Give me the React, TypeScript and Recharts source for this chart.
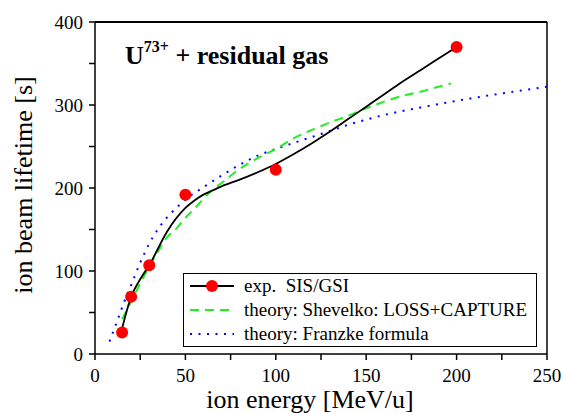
import {
  ComposedChart,
  Legend,
  Line,
  ReferenceLine,
  Scatter,
  XAxis,
  YAxis,
  Label,
} from "recharts";

// measured lifetimes (SIS/GSI)
const expEnergy = [15, 20, 30, 50, 100, 200];
const expLifetime = [26, 69, 107, 192, 222, 370];

// hand-drawn fit through the measurements
const fitEnergy = [15, 20, 25, 30, 40, 50, 55, 60, 65, 70, 80, 90, 100, 110, 120, 130, 140, 150, 160, 170, 180, 190, 200];
const fitLifetime = [31, 69, 90, 107, 148, 176, 185, 192, 197, 202, 210, 219, 229, 241, 254, 268, 283, 298, 313, 328, 342, 356, 370];

// Shevelko: LOSS+CAPTURE
const shevEnergy = [15, 20, 25, 30, 35, 40, 45, 50, 55, 60, 65, 70, 80, 90, 100, 110, 120, 130, 140, 150, 160, 170, 180, 190, 197];
const shevLifetime = [42, 63, 85, 105, 124, 141, 151, 164, 175, 187, 198, 206, 223, 236, 247, 260, 270, 279, 287, 296, 304, 311, 316, 322, 326];

// Franzke formula
const franzEnergy = [8, 12, 16, 20, 25, 30, 35, 40, 45, 50, 60, 70, 80, 90, 100, 115, 125, 140, 160, 180, 200, 225, 250];
const franzLifetime = [15, 38, 62, 83, 110, 133, 151, 165, 176, 186, 201, 215, 228, 239, 247, 258, 265, 276, 288, 297, 305, 314, 322];

const xTicks = [0, 25, 50, 75, 100, 125, 150, 175, 200, 225, 250];
const yTicks = [0, 50, 100, 150, 200, 250, 300, 350, 400];

const zip = (xs: number[], ys: number[]) => xs.map((e, i) => ({ e, t: ys[i] }));
const expData = zip(expEnergy, expLifetime);
const fitData = zip(fitEnergy, fitLifetime);
const shevData = zip(shevEnergy, shevLifetime);
const franzData = zip(franzEnergy, franzLifetime);

const FONT = "'Liberation Serif', 'Times New Roman', serif";

function LegendBox() {
  const row = { display: "flex", alignItems: "center", height: 24 } as const;
  const text = { marginLeft: 10, fontSize: 19, fontFamily: FONT, color: "#000", whiteSpace: "pre" } as const;
  return (
    <div
      style={{
        boxSizing: "border-box",
        width: 354,
        height: 74,
        border: "1.5px solid #000",
        background: "#fff",
        paddingLeft: 6,
      }}
    >
      <div style={row}>
        <svg width={44} height={14}>
          <line x1={0} y1={7} x2={44} y2={7} stroke="#000" strokeWidth={1.8} />
          <circle cx={22} cy={7} r={6} fill="#ff0000" />
        </svg>
        <span style={text}>{"exp.  SIS/GSI"}</span>
      </div>
      <div style={row}>
        <svg width={44} height={14}>
          <line x1={0} y1={7} x2={44} y2={7} stroke="#22ee22" strokeWidth={2} strokeDasharray="9 6" />
        </svg>
        <span style={text}>theory: Shevelko: LOSS+CAPTURE</span>
      </div>
      <div style={row}>
        <svg width={44} height={14}>
          <line x1={0} y1={7} x2={44} y2={7} stroke="#0000ff" strokeWidth={2} strokeDasharray="2 6.5" />
        </svg>
        <span style={text}>theory: Franzke formula</span>
      </div>
    </div>
  );
}

const RedDot = (p: any) => <circle cx={p.cx} cy={p.cy} r={6} fill="#ff0000" />;

export default function App() {
  const tick = { fill: "#000", fontSize: 19, fontFamily: FONT };
  return (
    <div style={{ position: "absolute", left: 0, top: 0, width: 564, height: 413, background: "#fff" }}>
      <ComposedChart width={564} height={413} margin={{ top: 22, right: 17, left: 0, bottom: 0 }}>
        <XAxis
          type="number"
          dataKey="e"
          domain={[0, 250]}
          ticks={xTicks}
          allowDataOverflow
          tick={tick}
          tickFormatter={(v: number) => (v % 50 === 0 ? String(v) : "")}
          tickSize={6}
          tickMargin={9}
          height={59}
          stroke="#000"
          strokeWidth={1.5}
        >
          <Label
            content={() => (
              <text x={310} y={408} textAnchor="middle" fontSize={26} fontFamily={FONT} fill="#000">
                ion energy [MeV/u]
              </text>
            )}
          />
        </XAxis>
        <YAxis
          type="number"
          dataKey="t"
          domain={[0, 400]}
          ticks={yTicks}
          allowDataOverflow
          tick={tick}
          tickFormatter={(v: number) => (v % 100 === 0 ? String(v) : "")}
          tickSize={6}
          tickMargin={6}
          width={95}
          stroke="#000"
          strokeWidth={1.5}
        >
          <Label
            content={() => (
              <text
                x={23}
                y={185}
                transform="rotate(-90 23 185)"
                textAnchor="middle"
                dominantBaseline="central"
                fontSize={26}
                fontFamily={FONT}
                fill="#000"
              >
                ion beam lifetime [s]
              </text>
            )}
          />
        </YAxis>
        <ReferenceLine y={400} stroke="#000" strokeWidth={2} />
        <ReferenceLine x={250} stroke="#000" strokeWidth={1.5} />
        <Line
          data={franzData}
          dataKey="t"
          type="monotone"
          stroke="#0000ff"
          strokeWidth={2}
          strokeDasharray="2 6.5"
          dot={false}
          isAnimationActive={false}
        />
        <Line
          data={shevData}
          dataKey="t"
          type="monotone"
          stroke="#22ee22"
          strokeWidth={2}
          strokeDasharray="9 6"
          dot={false}
          isAnimationActive={false}
        />
        <Line
          data={fitData}
          dataKey="t"
          type="monotone"
          stroke="#000"
          strokeWidth={1.8}
          dot={false}
          isAnimationActive={false}
        />
        <Scatter data={expData} dataKey="t" shape={RedDot} isAnimationActive={false} />
        <Legend
          layout="horizontal"
          verticalAlign="middle"
          align="center"
          content={() => <LegendBox />}
          wrapperStyle={{ position: "absolute", left: 183, top: 273, width: 354, height: 74 }}
        />
        <text x={125} y={64} fontSize={26} fontWeight="bold" fontFamily={FONT} fill="#000">
          U
          <tspan dy={-12} fontSize={16}>73+</tspan>
          <tspan dy={12}> + residual gas</tspan>
        </text>
      </ComposedChart>
    </div>
  );
}
